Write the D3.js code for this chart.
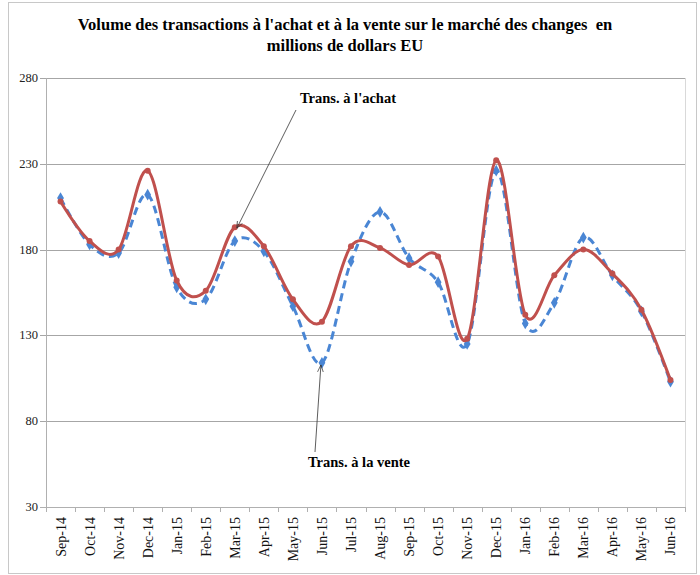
<!DOCTYPE html>
<html>
<head>
<meta charset="utf-8">
<script src="https://cdn.jsdelivr.net/npm/d3@7"></script>
<style>
  body { margin: 0; background: #fff; }
</style>
</head>
<body>
<svg id="chart" width="700" height="575" font-family="'Liberation Serif', 'Times New Roman', serif"></svg>
<script>
'use strict'

// months on the x axis
var months = ['Sep-14','Oct-14','Nov-14','Dec-14','Jan-15','Feb-15','Mar-15','Apr-15','May-15','Jun-15','Jul-15',
  'Aug-15','Sep-15','Oct-15','Nov-15','Dec-15','Jan-16','Feb-16','Mar-16','Apr-16','May-16','Jun-16'];

// transactions à l'achat (red, solid)
var achat = [208, 185, 180, 226, 162, 156, 193, 182, 151, 138, 182,
  181, 171, 176, 128, 232, 142, 165, 180, 166, 145, 104];

// transactions à la vente (blue, dashed)
var vente = [210, 183, 178, 212, 158, 151, 185, 179, 147, 114, 173,
  202, 175, 161, 125, 226, 137, 149, 187, 165, 144, 103];

var yTicks = [30, 80, 130, 180, 230, 280];

var titleLines = ["Volume des transactions à l'achat et à la vente sur le marché des changes  en",
  'millions de dollars EU'];

var svg = d3.select('#chart');

// outer frame
svg.append('rect')
  .attr('x', 8.5).attr('y', 2.5)
  .attr('width', 688).attr('height', 571)
  .attr('fill', 'none')
  .attr('stroke', '#c8c8c8');

var pLeft = 46, pRight = 685, pTop = 78, pBottom = 507;

var x = d3.scaleBand()
  .domain(months)
  .range([pLeft, pRight])
  .padding(0);

var y = d3.scaleLinear()
  .domain([30, 280])
  .range([pBottom, pTop]);

function cx(i){
  return x(months[i]) + x.bandwidth() / 2;
}

// title
svg.selectAll('text.title')
  .data(titleLines)
  .enter()
  .append('text')
  .attr('class', 'title')
  .attr('x', 345)
  .attr('y', function(d, i){ return 30 + i * 21; })
  .attr('text-anchor', 'middle')
  .style('font-size', '16.5px')
  .style('font-weight', 'bold')
  .style('white-space', 'pre')
  .text(function(d){ return d; });

// gridlines
svg.selectAll('line.grid')
  .data(yTicks)
  .enter()
  .append('line')
  .attr('class', 'grid')
  .attr('x1', pLeft - 6)
  .attr('x2', pRight)
  .attr('y1', function(d){ return Math.round(y(d)) + 0.5; })
  .attr('y2', function(d){ return Math.round(y(d)) + 0.5; })
  .attr('stroke', function(d){ return d == 30 ? '#b0b0b0' : '#a6a6a6'; })
  .attr('stroke-width', 1);

// plot area right edge and y axis line
svg.append('line')
  .attr('x1', pRight + 0.5).attr('x2', pRight + 0.5)
  .attr('y1', pTop).attr('y2', pBottom)
  .attr('stroke', '#d9d9d9');
svg.append('line')
  .attr('x1', pLeft + 0.5).attr('x2', pLeft + 0.5)
  .attr('y1', pTop).attr('y2', pBottom)
  .attr('stroke', '#b0b0b0');

// y labels
svg.selectAll('text.ylab')
  .data(yTicks)
  .enter()
  .append('text')
  .attr('class', 'ylab')
  .attr('x', 38)
  .attr('y', function(d){ return y(d) + 4; })
  .attr('text-anchor', 'end')
  .style('font-size', '12.5px')
  .attr('fill', '#222')
  .text(function(d){ return d; });

// x ticks between categories
var bounds = months.map(function(m){ return x(m); }).concat([pRight]);
svg.selectAll('line.xtick')
  .data(bounds)
  .enter()
  .append('line')
  .attr('class', 'xtick')
  .attr('x1', function(d){ return Math.round(d) + 0.5; })
  .attr('x2', function(d){ return Math.round(d) + 0.5; })
  .attr('y1', pBottom)
  .attr('y2', pBottom + 5)
  .attr('stroke', '#b0b0b0');

// x labels
svg.selectAll('text.xlab')
  .data(months)
  .enter()
  .append('text')
  .attr('class', 'xlab')
  .attr('transform', function(d, i){
    return 'translate(' + (cx(i) + 5) + ',' + (pBottom + 10) + ') rotate(-90)';
  })
  .attr('text-anchor', 'end')
  .style('font-size', '14px')
  .attr('fill', '#111')
  .text(function(d){ return d; });

var line = d3.line()
  .x(function(d, i){ return cx(i); })
  .y(function(d){ return y(d); })
  .curve(d3.curveCatmullRom.alpha(0));

// vente (blue dashed)
svg.append('path')
  .datum(vente)
  .attr('d', line)
  .attr('fill', 'none')
  .attr('stroke', '#4a86d4')
  .attr('stroke-width', 3)
  .attr('stroke-dasharray', '8,5');

svg.selectAll('path.vmark')
  .data(vente)
  .enter()
  .append('path')
  .attr('class', 'vmark')
  .attr('d', d3.symbol().type(d3.symbolDiamond).size(40))
  .attr('transform', function(d, i){ return 'translate(' + cx(i) + ',' + y(d) + ')'; })
  .attr('fill', '#4a86d4');

// achat (red solid)
svg.append('path')
  .datum(achat)
  .attr('d', line)
  .attr('fill', 'none')
  .attr('stroke', '#c0504d')
  .attr('stroke-width', 3);

svg.selectAll('circle.amark')
  .data(achat)
  .enter()
  .append('circle')
  .attr('class', 'amark')
  .attr('cx', function(d, i){ return cx(i); })
  .attr('cy', function(d){ return y(d); })
  .attr('r', 3)
  .attr('fill', '#c0504d');

// annotation arrows
svg.append('defs')
  .append('marker')
  .attr('id', 'arr')
  .attr('viewBox', '0 0 10 10')
  .attr('refX', 10).attr('refY', 5)
  .attr('markerWidth', 9).attr('markerHeight', 9)
  .attr('orient', 'auto')
  .append('path')
  .attr('d', 'M0,1 L10,5 L0,9')
  .attr('fill', 'none')
  .attr('stroke', '#333')
  .attr('stroke-width', 1);

var iA = months.indexOf('Mar-15'), iV = months.indexOf('Jun-15');

svg.append('line')
  .attr('x1', 296).attr('y1', 110)
  .attr('x2', cx(iA) + 2).attr('y2', y(achat[iA]) + 1)
  .attr('stroke', '#333')
  .attr('stroke-width', 0.8)
  .attr('marker-end', 'url(#arr)');

svg.append('text')
  .attr('x', 300).attr('y', 103)
  .style('font-size', '14.5px')
  .style('font-weight', 'bold')
  .text("Trans. à l'achat");

svg.append('line')
  .attr('x1', 315).attr('y1', 452)
  .attr('x2', cx(iV) - 1).attr('y2', y(vente[iV]) + 2)
  .attr('stroke', '#333')
  .attr('stroke-width', 0.8)
  .attr('marker-end', 'url(#arr)');

svg.append('text')
  .attr('x', 308).attr('y', 467)
  .style('font-size', '14.5px')
  .style('font-weight', 'bold')
  .text('Trans. à la vente');
</script>
</body>
</html>
